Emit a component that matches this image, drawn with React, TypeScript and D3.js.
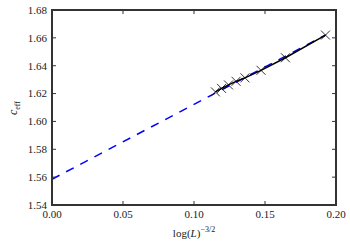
import * as d3 from "d3";

const W = 350;
const H = 250;
const MARGIN = { top: 10, right: 14, bottom: 45, left: 52 };

// data
const xValues = [0.1151, 0.1194, 0.1243, 0.1296, 0.1359, 0.1472, 0.1644, 0.1926];
const yValues = [1.6212, 1.6237, 1.6262, 1.6288, 1.6313, 1.6367, 1.6457, 1.662];
const fitX = [0, 0.1926];
const fitY = [1.5585, 1.662];
const xTicks = [0, 0.05, 0.1, 0.15, 0.2];
const yTicks = [1.54, 1.56, 1.58, 1.6, 1.62, 1.64, 1.66, 1.68];

const textStyle = { fontFamily: "Liberation Serif, DejaVu Serif, serif" };

export default function App() {
  const boundsW = W - MARGIN.left - MARGIN.right;
  const boundsH = H - MARGIN.top - MARGIN.bottom;

  const xScale = d3.scaleLinear().domain([0, 0.2]).range([0, boundsW]);
  const yScale = d3.scaleLinear().domain([1.54, 1.68]).range([boundsH, 0]);

  const lineGen = d3
    .line<[number, number]>()
    .x((d) => xScale(d[0]))
    .y((d) => yScale(d[1]));

  const fitPath = lineGen(fitX.map((x, i) => [x, fitY[i]]));
  const dataPts: [number, number][] = xValues.map((x, i) => [x, yValues[i]]);
  const dataPath = lineGen(dataPts);

  const tickLen = 4;
  const m = 4.5; // marker half size

  return (
    <div style={{ position: "absolute", left: 0, top: 0 }}>
      <svg width={W} height={H} style={{ display: "block", background: "#fff" }}>
        <g transform={`translate(${MARGIN.left},${MARGIN.top})`} style={textStyle}>
          <path d={fitPath || ""} fill="none" stroke="#0000ff" strokeWidth={1.5} strokeDasharray="8.5,7.5" />
          <path d={dataPath || ""} fill="none" stroke="#000" strokeWidth={1.5} />
          {dataPts.map((d, i) => {
            const cx = xScale(d[0]);
            const cy = yScale(d[1]);
            return (
              <path
                key={i}
                d={`M${cx - m},${cy - m}L${cx + m},${cy + m}M${cx - m},${cy + m}L${cx + m},${cy - m}`}
                stroke="#000"
                strokeWidth={0.8}
                fill="none"
              />
            );
          })}

          {xTicks.map((t) => (
            <g key={"x" + t}>
              <line x1={xScale(t)} x2={xScale(t)} y1={boundsH} y2={boundsH - tickLen} stroke="#333" strokeWidth={1} />
              <line x1={xScale(t)} x2={xScale(t)} y1={0} y2={tickLen} stroke="#333" strokeWidth={1} />
              <text x={xScale(t)} y={boundsH + 13} textAnchor="middle" fontSize={11} fill="#222">
                {t.toFixed(2)}
              </text>
            </g>
          ))}
          {yTicks.map((t) => (
            <g key={"y" + t}>
              <line x1={0} x2={tickLen} y1={yScale(t)} y2={yScale(t)} stroke="#333" strokeWidth={1} />
              <line x1={boundsW} x2={boundsW - tickLen} y1={yScale(t)} y2={yScale(t)} stroke="#333" strokeWidth={1} />
              <text x={-5} y={yScale(t)} dy="0.35em" textAnchor="end" fontSize={11} fill="#222">
                {t.toFixed(2)}
              </text>
            </g>
          ))}

          <rect x={0} y={0} width={boundsW} height={boundsH} fill="none" stroke="#333" strokeWidth={2} />

          <text x={boundsW / 2} y={boundsH + 32} textAnchor="middle" fontSize={11} fill="#222">
            log(<tspan fontStyle="italic">L</tspan>)
            <tspan fontSize={8} dy={-5}>−3/2</tspan>
          </text>
        </g>
        <text
          transform={`translate(17,${MARGIN.top + 98}) rotate(-90)`}
          textAnchor="middle"
          fontSize={12}
          fill="#222"
          style={textStyle}
        >
          <tspan fontStyle="italic">c</tspan>
          <tspan fontSize={8} dy={3}>eff</tspan>
        </text>
      </svg>
    </div>
  );
}
